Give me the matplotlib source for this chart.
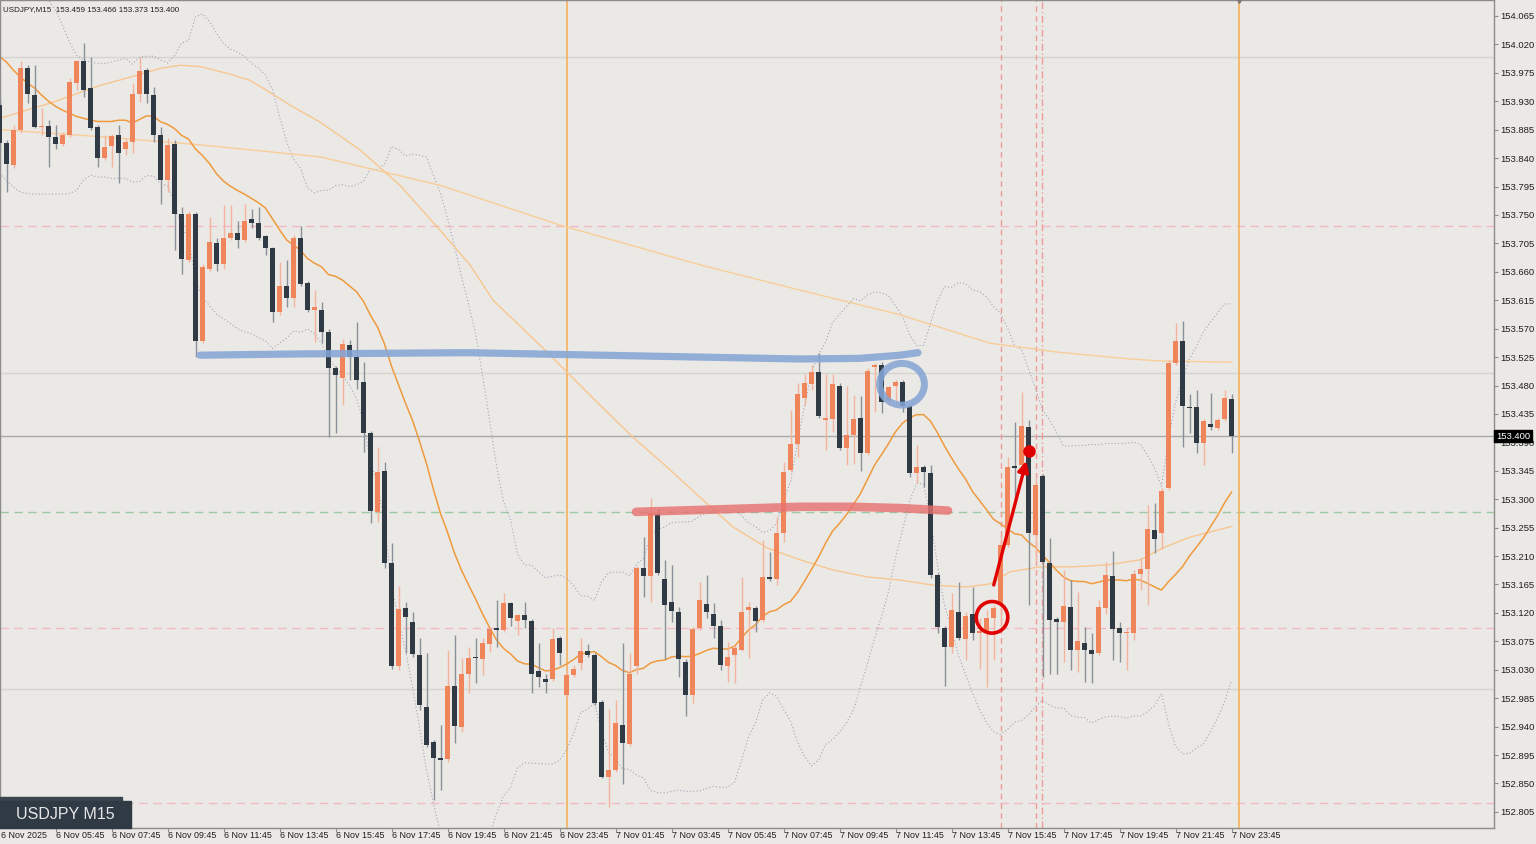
import numpy as np
import matplotlib
matplotlib.use("Agg")
import matplotlib.pyplot as plt
from matplotlib.patches import Ellipse, FancyArrowPatch
import matplotlib.transforms as mtransforms

plt.rcParams['font.family'] = ['Liberation Sans', 'DejaVu Sans']

# USDJPY M15 candles, 6 Nov 03:45 .. 7 Nov 23:45 (one per 15 min)
open_ = [
    153.924, 153.864, 153.829, 153.885, 153.982, 153.940, 153.889, 153.891, 153.873, 153.862,
    153.877, 153.959, 153.993, 153.951, 153.889, 153.840, 153.859, 153.877, 153.854, 153.866,
    153.941, 153.979, 153.940, 153.877, 153.805, 153.862, 153.752, 153.678, 153.751, 153.550,
    153.665, 153.705, 153.673, 153.713, 153.722, 153.710, 153.743, 153.737, 153.716, 153.697,
    153.596, 153.638, 153.619, 153.714, 153.642, 153.599, 153.599, 153.564, 153.507, 153.492,
    153.544, 153.525, 153.485, 153.405, 153.280, 153.345, 153.199, 153.036, 153.127, 153.105,
    153.053, 152.971, 152.916, 152.890, 152.889, 153.004, 152.939, 153.023, 153.050, 153.047,
    153.070, 153.096, 153.093, 153.135, 153.107, 153.116, 153.107, 153.028, 153.016, 153.015,
    153.080, 152.990, 153.021, 153.040, 153.059, 153.053, 152.979, 152.860, 152.871, 152.942,
    152.912, 153.036, 153.191, 153.179, 153.277, 153.174, 153.137, 153.121, 153.043, 152.990,
    153.096, 153.134, 153.119, 153.099, 153.036, 153.053, 153.062, 153.124, 153.127, 153.108,
    153.177, 153.174, 153.247, 153.346, 153.387, 153.460, 153.482, 153.501, 153.425, 153.427,
    153.479, 153.381, 153.402, 153.429, 153.373, 153.509, 153.512, 153.455, 153.480, 153.485,
    153.448, 153.341, 153.351, 153.341, 153.180, 153.096, 153.066, 153.121, 153.078, 153.119,
    153.088, 153.089, 153.112, 153.132, 153.228, 153.353, 153.354, 153.414, 153.244, 153.337,
    153.199, 153.110, 153.105, 153.129, 153.062, 153.072, 153.062, 153.056, 153.127, 153.179,
    153.096, 153.088, 153.088, 153.182, 153.190, 153.252, 153.247, 153.318, 153.515, 153.550,
    153.446, 153.446, 153.389, 153.419, 153.413, 153.427, 153.459]
high = [
    153.935, 153.869, 153.892, 153.993, 153.987, 153.987, 153.919, 153.900, 153.892, 153.881,
    153.967, 153.995, 154.022, 154.000, 153.892, 153.877, 153.878, 153.892, 153.870, 153.959,
    154.000, 153.982, 153.952, 153.889, 153.872, 153.869, 153.762, 153.757, 153.754, 153.672,
    153.746, 153.713, 153.765, 153.765, 153.741, 153.768, 153.760, 153.762, 153.719, 153.700,
    153.675, 153.678, 153.718, 153.733, 153.645, 153.631, 153.612, 153.569, 153.511, 153.553,
    153.552, 153.580, 153.517, 153.408, 153.383, 153.359, 153.231, 153.163, 153.137, 153.121,
    153.080, 153.056, 152.919, 152.942, 153.061, 153.085, 153.048, 153.066, 153.081, 153.081,
    153.097, 153.140, 153.152, 153.138, 153.119, 153.137, 153.110, 153.072, 153.024, 153.096,
    153.083, 153.032, 153.037, 153.080, 153.070, 153.056, 152.982, 152.968, 152.982, 153.072,
    153.056, 153.195, 153.240, 153.302, 153.285, 153.204, 153.196, 153.129, 153.047, 153.097,
    153.169, 153.180, 153.135, 153.108, 153.074, 153.069, 153.177, 153.137, 153.131, 153.236,
    153.217, 153.272, 153.359, 153.441, 153.484, 153.499, 153.512, 153.531, 153.499, 153.499,
    153.484, 153.480, 153.465, 153.463, 153.507, 153.515, 153.517, 153.480, 153.488, 153.488,
    153.451, 153.386, 153.354, 153.354, 153.183, 153.099, 153.152, 153.169, 153.121, 153.161,
    153.112, 153.124, 153.132, 153.244, 153.367, 153.422, 153.469, 153.425, 153.334, 153.340,
    153.239, 153.113, 153.188, 153.172, 153.153, 153.097, 153.088, 153.140, 153.201, 153.218,
    153.105, 153.096, 153.188, 153.207, 153.291, 153.294, 153.318, 153.520, 153.579, 153.582,
    153.466, 153.473, 153.427, 153.468, 153.429, 153.473, 153.466]
low = [
    153.853, 153.786, 153.824, 153.880, 153.927, 153.888, 153.877, 153.826, 153.854, 153.859,
    153.873, 153.948, 153.936, 153.885, 153.826, 153.837, 153.826, 153.801, 153.845, 153.848,
    153.929, 153.927, 153.866, 153.767, 153.786, 153.694, 153.657, 153.675, 153.525, 153.547,
    153.662, 153.662, 153.665, 153.710, 153.697, 153.707, 153.730, 153.710, 153.686, 153.580,
    153.591, 153.604, 153.604, 153.637, 153.596, 153.549, 153.547, 153.398, 153.405, 153.449,
    153.488, 153.474, 153.375, 153.263, 153.264, 153.191, 153.032, 153.029, 153.056, 153.051,
    152.966, 152.908, 152.824, 152.840, 152.884, 152.914, 152.931, 152.994, 153.009, 153.021,
    153.058, 153.066, 153.089, 153.100, 153.085, 153.096, 152.993, 153.002, 152.993, 153.012,
    153.037, 152.986, 153.018, 153.029, 153.050, 152.974, 152.858, 152.813, 152.868, 152.849,
    152.909, 153.024, 153.145, 153.137, 153.180, 153.047, 153.105, 153.018, 152.957, 152.977,
    153.093, 153.112, 153.080, 153.029, 153.010, 153.009, 153.059, 153.048, 153.089, 153.105,
    153.171, 153.164, 153.232, 153.343, 153.367, 153.449, 153.473, 153.429, 153.378, 153.406,
    153.378, 153.354, 153.356, 153.345, 153.370, 153.438, 153.436, 153.449, 153.449, 153.438,
    153.335, 153.326, 153.319, 153.176, 153.088, 153.005, 153.056, 153.077, 153.045, 153.077,
    153.032, 153.002, 153.045, 153.100, 153.225, 153.299, 153.346, 153.132, 153.204, 153.018,
    153.024, 153.024, 153.042, 153.029, 153.026, 153.010, 153.009, 153.053, 153.119, 153.045,
    153.042, 153.029, 153.077, 153.157, 153.132, 153.215, 153.221, 153.315, 153.512, 153.383,
    153.405, 153.373, 153.354, 153.410, 153.410, 153.424, 153.373]
close = [
    153.864, 153.831, 153.885, 153.982, 153.941, 153.889, 153.891, 153.873, 153.862, 153.877,
    153.960, 153.993, 153.948, 153.888, 153.840, 153.858, 153.875, 153.848, 153.866, 153.941,
    153.978, 153.941, 153.877, 153.805, 153.861, 153.752, 153.680, 153.752, 153.550, 153.667,
    153.707, 153.673, 153.713, 153.722, 153.710, 153.741, 153.737, 153.714, 153.697, 153.596,
    153.638, 153.619, 153.714, 153.640, 153.599, 153.604, 153.564, 153.507, 153.496, 153.545,
    153.525, 153.488, 153.405, 153.282, 153.343, 153.199, 153.036, 153.126, 153.113, 153.055,
    152.974, 152.911, 152.890, 152.887, 153.005, 152.941, 153.023, 153.048, 153.048, 153.072,
    153.094, 153.093, 153.135, 153.112, 153.116, 153.108, 153.024, 153.018, 153.010, 153.078,
    153.056, 153.021, 153.032, 153.059, 153.053, 152.977, 152.860, 152.871, 152.946, 152.914,
    153.024, 153.191, 153.179, 153.278, 153.183, 153.132, 153.123, 153.047, 152.990, 153.094,
    153.140, 153.121, 153.099, 153.037, 153.051, 153.064, 153.121, 153.129, 153.107, 153.177,
    153.174, 153.247, 153.343, 153.387, 153.466, 153.484, 153.501, 153.432, 153.429, 153.482,
    153.381, 153.402, 153.427, 153.373, 153.503, 153.512, 153.454, 153.477, 153.485, 153.448,
    153.341, 153.351, 153.343, 153.180, 153.097, 153.066, 153.124, 153.080, 153.115, 153.088,
    153.091, 153.112, 153.127, 153.228, 153.351, 153.349, 153.416, 153.247, 153.322, 153.201,
    153.108, 153.105, 153.131, 153.062, 153.075, 153.061, 153.055, 153.129, 153.180, 153.094,
    153.088, 153.089, 153.182, 153.190, 153.253, 153.237, 153.313, 153.515, 153.550, 153.448,
    153.444, 153.389, 153.424, 153.414, 153.425, 153.461, 153.400]

bb_mid_head = [154.001, 153.992, 153.979, 153.968, 153.959, 153.951, 153.940, 153.930, 153.922, 153.916,
               153.911, 153.906, 153.903, 153.900, 153.898, 153.898, 153.898, 153.900, 153.900]
bb_up_head = [154.169, 154.153, 154.141, 154.130, 154.119, 154.109, 154.100, 154.090, 154.074, 154.050,
              154.024, 154.003, 153.995, 153.992, 153.990, 153.990, 153.992, 153.995, 153.998]
bb_lo_head = [153.816, 153.805, 153.794, 153.786, 153.784, 153.783, 153.783, 153.783, 153.783, 153.783,
              153.784, 153.789, 153.805, 153.813, 153.810, 153.810, 153.808, 153.808, 153.808]

# slower moving averages, read at points (bar index, price)
ma_mid_idx = [0.07, 7.21, 14.36, 18.64, 22.93, 25.79, 28.64, 32.93, 35.79, 38.64, 41.5, 45.79, 51.5,
              57.21, 62.93, 67.21, 70.5, 77.21, 85.79, 90.5, 95.36, 100.07, 104.79, 109.64, 114.36,
              119.07, 123.93, 128.64, 133.36, 138.21, 141.5, 144.36, 148.64, 153.36, 158.21, 162.93,
              166.21, 170.07, 176.07]
ma_mid_val = [153.903, 153.927, 153.955, 153.968, 153.982, 153.987, 153.985, 153.973, 153.963, 153.944,
              153.924, 153.897, 153.853, 153.797, 153.726, 153.671, 153.615, 153.544, 153.449, 153.398,
              153.351, 153.303, 153.256, 153.223, 153.204, 153.188, 153.177, 153.172, 153.164, 153.161,
              153.166, 153.185, 153.193, 153.193, 153.196, 153.204, 153.223, 153.240, 153.257]
ma_slow_idx = [0.07, 14.36, 28.64, 45.79, 62.93, 80.07, 100.07, 114.36, 128.64, 141.5, 151.07, 160.5,
               165.36, 176.07]
ma_slow_val = [153.885, 153.874, 153.861, 153.842, 153.797, 153.734, 153.671, 153.631, 153.592, 153.547,
               153.533, 153.523, 153.519, 153.517]

xlabels = ['6 Nov 2025', '6 Nov 05:45', '6 Nov 07:45', '6 Nov 09:45', '6 Nov 11:45', '6 Nov 13:45',
           '6 Nov 15:45', '6 Nov 17:45', '6 Nov 19:45', '6 Nov 21:45', '6 Nov 23:45', '7 Nov 01:45',
           '7 Nov 03:45', '7 Nov 05:45', '7 Nov 07:45', '7 Nov 09:45', '7 Nov 11:45', '7 Nov 13:45',
           '7 Nov 15:45', '7 Nov 17:45', '7 Nov 19:45', '7 Nov 21:45', '7 Nov 23:45']
xlabel_pos = list(range(0, 177, 8))
ytick_vals = [154.065 - 0.045 * k for k in range(29)]

# levels
round_levels = [154.0, 153.5, 153.0]
last_price = 153.400
pink_levels = [153.733, 153.096, 152.819]
green_level = 153.280
day_sep = [81, 177]
pink_vlines = [143.0, 148.0, 148.9]

# hand-drawn marks (bar index, price)
blue_idx = [28.64, 42.93, 66.79, 85.79, 100.07, 114.36, 122.93, 128.64, 131.21]
blue_val = [153.528, 153.530, 153.532, 153.528, 153.525, 153.522, 153.523, 153.528, 153.532]
red_idx = [90.93, 100.07, 114.36, 121.5, 128.64, 135.5]
red_val = [153.280, 153.283, 153.288, 153.288, 153.286, 153.282]

o = np.array(open_); h = np.array(high); l = np.array(low); c = np.array(close)
n = len(c)
idx = np.arange(n)

# Bollinger bands from the closes
mid = list(bb_mid_head); up = list(bb_up_head); lo = list(bb_lo_head)
for i in range(19, n):
    w = c[i - 19:i + 1]
    m = w.mean(); s = w.std()
    mid.append(m); up.append(m + 2 * s); lo.append(m - 2 * s)

bg = '#EBE9E5'
bull = '#F0845A'
bear = '#2F3A45'

fig = plt.figure(figsize=(15.36, 8.44), dpi=100, facecolor=bg)
ax = fig.add_axes([0, 16 / 844, 1494 / 1536, 828 / 844], facecolor=bg)
ax.set_xlim(0.071, 0.071 + 1494 / 7)
ax.set_ylim(152.7795, 154.0903)

for lv in round_levels:
    ax.axhline(lv, color='#D6D4D0', lw=1, zorder=1)
ax.axhline(last_price, color='#A8A8A8', lw=1, zorder=1)
for lv in pink_levels:
    ax.axhline(lv, color='#F2B8C6', lw=1, ls=(0, (6, 4)), zorder=1)
ax.axhline(green_level, color='#9CC8A4', lw=1, ls=(0, (6, 4)), zorder=1)
for d in day_sep:
    ax.axvline(d, color='#F5B25A', lw=1.2, zorder=1)
ax.axvline(pink_vlines[0], color='#F09A9A', lw=1, ls=(0, (4, 3)), zorder=1)
ax.axvline(pink_vlines[1], color='#F09A9A', lw=1, ls=(0, (4, 3)), zorder=1)
ax.axvline(pink_vlines[2], color='#F09A9A', lw=1, ls=(0, (5, 2, 1, 2)), zorder=1)

# indicators
ax.plot(idx, up, color='#A4A4B8', lw=0.8, ls=(0, (1, 2)), zorder=2)
ax.plot(idx, lo, color='#A4A4B8', lw=0.8, ls=(0, (1, 2)), zorder=2)
ax.plot(ma_slow_idx, ma_slow_val, color='#F8CD98', lw=1.0, zorder=2)
ax.plot(ma_mid_idx, ma_mid_val, color='#F8C690', lw=1.0, zorder=2)
ax.plot(idx, mid, color='#F09A3E', lw=1.1, zorder=2)

# candles
up_bar = c >= o
wick_col = np.where(up_bar, '#F3B39C', '#8A9098')
ax.vlines(idx, l, h, colors=wick_col, lw=1, zorder=3)
body_h = np.maximum(np.abs(c - o), 0.0016)
ax.bar(idx, body_h, bottom=np.minimum(o, c), width=0.64,
       color=np.where(up_bar, bull, bear), linewidth=0, zorder=4)

# hand drawings
ax.plot(blue_idx, blue_val, color='#86A6D6', lw=5.2, alpha=0.88, solid_capstyle='round',
        solid_joinstyle='round', zorder=5)
ax.add_patch(Ellipse((128.93, 153.482), 6.4, 0.066, fill=False, ec='#86A6D6', lw=5.0,
                     alpha=0.88, zorder=5))
ax.plot(red_idx, red_val, color='#E8706E', lw=6.2, alpha=0.8, solid_capstyle='round', zorder=5)
ax.add_patch(Ellipse((141.79, 153.113), 4.5, 0.050, fill=False, ec='#E00000', lw=2.6, zorder=6))
ax.add_patch(FancyArrowPatch((141.93, 153.160), (146.79, 153.365), arrowstyle='-|>',
                             mutation_scale=16, color='#E00000', lw=2.4, zorder=6))
ax.plot([147.07], [153.376], 'o', color='#E00000', ms=8, zorder=6)

# axes
for s in ax.spines.values():
    s.set_color('#8C8C8C')
    s.set_linewidth(1)
ax.yaxis.tick_right()
ax.set_yticks(ytick_vals)
ax.set_yticklabels(['%.3f' % v for v in ytick_vals])
ax.tick_params(axis='y', length=3, width=0.8, color='#8C8C8C', labelsize=6.8, pad=1.5,
               labelcolor='#1E1E1E')
ax.set_xticks([p for p in xlabel_pos if p > 0.1])
ax.set_xticklabels([])
ax.tick_params(axis='x', length=3, width=0.8, color='#8C8C8C', direction='out')
for p, t in zip(xlabel_pos, xlabels):
    ax.text(max(p, 0.15), -0.004, t, transform=ax.get_xaxis_transform(), ha='left', va='top',
            fontsize=6.4, color='#1E1E1E', clip_on=False)

yt = mtransforms.blended_transform_factory(ax.transAxes, ax.transData)
ax.text(1.0012, last_price, '153.400', transform=yt, ha='left', va='center', fontsize=6.8,
        color='white', zorder=10, clip_on=False,
        bbox=dict(boxstyle='square,pad=0.2', fc='black', ec='black'))
ax.plot([177], [154.0903], marker='v', color='#777777', ms=5, clip_on=False, zorder=10)

ax.text(0.002, 0.993, 'USDJPY,M15  153.459 153.466 153.373 153.400', transform=ax.transAxes,
        ha='left', va='top', fontsize=5.8, color='#1E1E1E')

# symbol badge bottom-left
fig.patches.append(plt.Rectangle((0, 1 - 801 / 844), 122 / 1536, 4 / 844, transform=fig.transFigure,
                                 color='#3A4550', zorder=20))
fig.patches.append(plt.Rectangle((0, 16 / 844), 131 / 1536, 27 / 844, transform=fig.transFigure,
                                 color=bear, zorder=20))
fig.text(65 / 1536, 1 - 814.5 / 844, 'USDJPY M15', ha='center', va='center', fontsize=11.5,
         color='#E6E6E6', zorder=21)

fig.savefig('out.png', dpi=100, facecolor=bg)
